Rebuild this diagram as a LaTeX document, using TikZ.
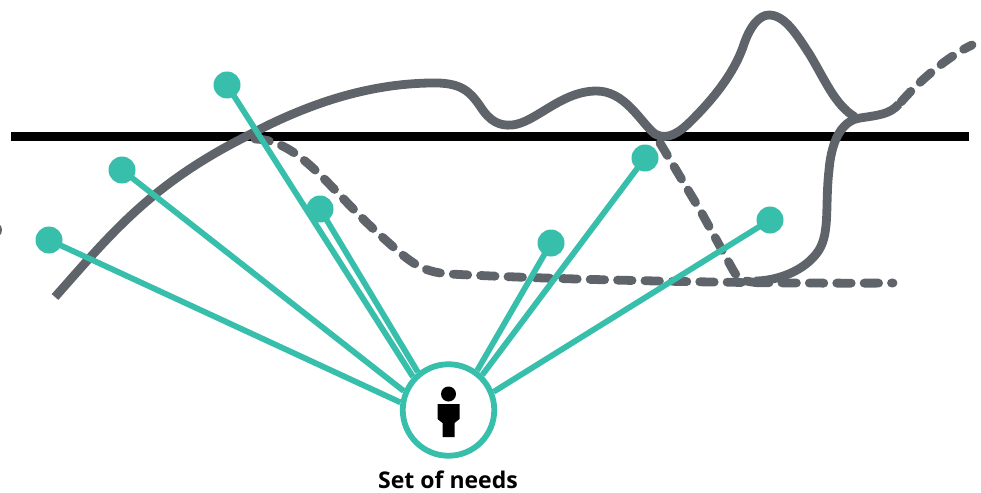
\documentclass[tikz,border=0pt]{standalone}
\usepackage{fontspec}
\setmainfont{Open Sans}
\definecolor{teal}{HTML}{37BFAB}
\definecolor{slate}{HTML}{5F646B}
\tikzset{
 x=1pt,y=-1pt,
 need/.style={circle,fill=teal,minimum size=27pt,inner sep=0pt},
 spoke/.style={draw=teal,line width=5.8pt},
 solidcurve/.style={draw=slate,line width=8.8pt,line join=round},
 dashcurve/.style={draw=slate,line width=8.8pt,line cap=round,dash pattern=on 14.5pt off 12.9pt},
}
\begin{document}
\begin{tikzpicture}
\useasboundingbox (0,0) rectangle (981,492);
\begin{scope}
\clip (0,0) rectangle (981,492);
\fill[slate] (-6,230) circle (8);
\end{scope}
\coordinate (barL) at (11,136.5);
\coordinate (barR) at (969,136.5);
\draw[line width=8.4pt] (barL) -- (barR);
% solid curves
\draw[solidcurve] (55,297) .. controls (110,235) and (150,185) .. (245,137)
  .. controls (310,102) and (370,84) .. (430,83)
  .. controls (462,82) and (470,92) .. (480,106)
  .. controls (490,122) and (500,126) .. (512,125)
  .. controls (535,123) and (560,92) .. (595,91)
  .. controls (625,90) and (640,122) .. (655,134)
  .. controls (668,141) and (680,132) .. (692,120)
  .. controls (712,100) and (733,75) .. (743,47)
  .. controls (750,25) and (760,15) .. (769,15)
  .. controls (785,15) and (797,35) .. (810,55)
  .. controls (825,80) and (835,105) .. (855,117);
\draw[solidcurve] (755,281) .. controls (775,281) and (805,272) .. (819,250)
  .. controls (830,232) and (825,205) .. (829,170)
  .. controls (832,135) and (845,120) .. (860,118)
  .. controls (880,115) and (890,114) .. (899,104);
% dashed curves
\draw[dashcurve] (901,102) .. controls (920,80) and (950,55) .. (972,45);
\draw[dashcurve] (255,139) .. controls (300,140) and (330,190) .. (380,235)
  .. controls (410,262) and (420,272) .. (450,274)
  .. controls (560,280) and (760,284) .. (893,283);
\draw[dashcurve] (660,143) -- (700,210) -- (733,270) .. controls (738,280) and (748,283) .. (760,282);
% needs
\node[circle,draw=teal,line width=5.8pt,fill=white,minimum size=91.5pt,inner sep=0pt] (hub) at (448.5,410) {};
\node[need] (n1) at (49,240) {};
\node[need] (n2) at (122,170) {};
\node[need] (n3) at (227,85) {};
\node[need] (n4) at (320,209) {};
\node[need] (n5) at (551,243) {};
\node[need] (n6) at (645,158) {};
\node[need] (n7) at (770,220) {};
\foreach \n/\a in {n1/171.8,n2/157.5,n3/137,n4/129,n5/54.5,n6/46,n7/22} \draw[spoke] (\n.center) -- (hub.\a);
% person
\fill (448.5,394) circle (7.5);
\fill (437.5,404) -- (459.5,404) -- (459.5,419) -- (454.5,423) -- (454.5,437) -- (442.5,437) -- (442.5,423) -- (437.5,419) -- cycle;
\node[font=\bfseries\fontsize{23}{26}\selectfont,inner sep=0pt,anchor=base] (lbl) at (448,488) {Set of needs};
\end{tikzpicture}
\end{document}
